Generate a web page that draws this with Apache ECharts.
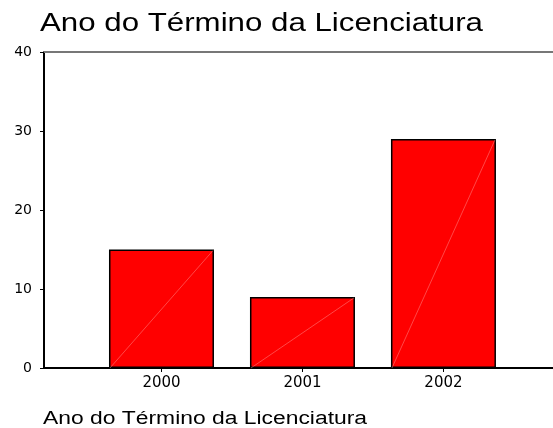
<!DOCTYPE html>
<html>
<head>
<meta charset="utf-8">
<script src="https://cdn.jsdelivr.net/npm/echarts@6/dist/echarts.min.js"></script>
<style>
  html, body { margin: 0; padding: 0; background: #fff; }
  #chart { width: 553px; height: 428px; }
</style>
</head>
<body>
<div id="chart"></div>
<script>
const titleText = 'Ano do Término da Licenciatura'
const axisTitle = 'Ano do Término da Licenciatura'
const years = [2000, 2001, 2002]
const counts = [15, 9, 29]
const yTicks = [0, 10, 20, 30, 40]

const barPx = 105
const barData = years.map((y, i) => [y, counts[i]])

const chart = echarts.init(document.getElementById('chart'))
chart.setOption({
  animation: false,
  grid: { left: 44, right: 0, top: 52, bottom: 60 },
  graphic: [
    {
      type: 'text', x: 40, y: 24.5, scaleX: 1.25,
      style: { text: titleText, fontSize: 25, fontFamily: 'Liberation Sans', fill: '#000', align: 'left', verticalAlign: 'middle' }
    },
    {
      type: 'text', x: 43, y: 419, scaleX: 1.27,
      style: { text: axisTitle, fontSize: 18, fontFamily: 'Liberation Sans', fill: '#000', align: 'left', verticalAlign: 'middle' }
    }
  ],
  xAxis: [{
    type: 'value',
    min: 1999.1667,
    max: 2002.777,
    splitLine: { show: false },
    axisLine: { show: true, lineStyle: { color: '#000', width: 2 } },
    axisTick: { show: true, length: 4, customValues: years, lineStyle: { color: '#000', width: 1 } },
    axisLabel: { customValues: years, margin: 8, color: '#000', fontSize: 15, fontFamily: 'DejaVu Sans', formatter: v => String(v) }
  }, {
    type: 'value',
    position: 'top',
    min: 1999.1667,
    max: 2002.777,
    splitLine: { show: false },
    axisLine: { show: true, lineStyle: { color: '#777', width: 2 } },
    axisTick: { show: false },
    axisLabel: { show: false }
  }],
  yAxis: {
    type: 'value',
    min: yTicks[0],
    max: yTicks[yTicks.length - 1],
    interval: 10,
    splitLine: { show: false },
    axisLine: { show: true, lineStyle: { color: '#000', width: 2 } },
    axisTick: { show: true, length: 4, lineStyle: { color: '#000', width: 1 } },
    axisLabel: { margin: 12, color: '#000', fontSize: 14, fontFamily: 'DejaVu Sans' }
  },
  series: [
    {
      type: 'bar',
      data: barData,
      barWidth: barPx,
      itemStyle: { color: '#ff0000', borderColor: '#000', borderWidth: 1.5 }
    },
    {
      // faint diagonal line seen inside every bar
      type: 'custom',
      data: barData,
      silent: true,
      z: 3,
      renderItem (params, api) {
        const base = api.coord([api.value(0), 0])
        const top = api.coord([api.value(0), api.value(1)])
        const h = barPx / 2 - 1
        return {
          type: 'line',
          shape: { x1: base[0] - h, y1: base[1], x2: top[0] + h, y2: top[1] + 1 },
          style: { stroke: 'rgba(255,170,170,0.7)', lineWidth: 0.6 }
        }
      }
    }
  ]
})
</script>
</body>
</html>
